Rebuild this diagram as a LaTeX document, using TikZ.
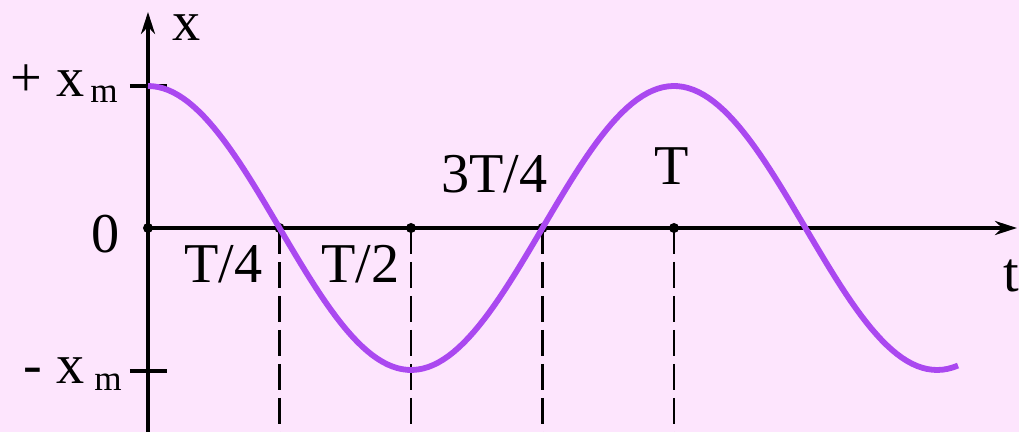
\documentclass[tikz,border=0pt]{standalone}
\usepackage{fontspec}
\setmainfont{Liberation Serif}
\usetikzlibrary{arrows.meta,positioning,calc}
\definecolor{bgpink}{RGB}{253,229,253}
\definecolor{wave}{RGB}{170,72,240}

\begin{document}
\begin{tikzpicture}[
    x=0.02cm, y=0.02cm,
    axis/.style={line width=2.3pt, -{Stealth[length=0.44cm,width=0.28cm]}},
    guide/.style={line width=1.5pt, dash pattern=on 0.52cm off 0.16cm},
    tickmark/.style={line width=2.3pt},
    lbl/.style={inner sep=0pt, font=\fontsize{32}{36}\selectfont},
    dot/.style={circle, fill, inner sep=0pt, minimum size=0.2cm}
]
\fill[bgpink] (-148,-204) rectangle (871,228);
\useasboundingbox (-148,-204) rectangle (871,228);

% axes
\coordinate (O) at (0,0);
\coordinate (bot) at (0,-204);
\coordinate (ytop) at (0,216);
\coordinate (xend) at (869,0);
\draw[axis] (bot) -- (ytop);
\draw[axis] (O) -- (xend);
\node[lbl, anchor=base west] (xlab) at (24,187) {x};
\node[lbl, anchor=base west] (tlab) at (855,-64) {t};

% amplitude ticks
\coordinate (pl) at (-18,142);
\coordinate (pr) at (19,142);
\coordinate (ml) at (-18,-143);
\coordinate (mr) at (19,-143);
\draw[tickmark] (pl) -- (pr);
\draw[tickmark] (ml) -- (mr);
\node[lbl, anchor=base east] (plus) at (-30,131) {+ x\hspace{0.12cm}\raisebox{-0.12cm}{\fontsize{20}{22}\selectfont m}};
\node[lbl, anchor=base east] (minus) at (-26,-156) {- x\hspace{0.2cm}\raisebox{-0.14cm}{\fontsize{20}{22}\selectfont m}};
\node[lbl, anchor=base east] (zero) at (-28,-25) {0};

% time marks
\node[dot] (d0) at (O) {};
\node[dot] (q1) at (131.5,0) {};
\node[dot] (q2) at (263,0) {};
\node[dot] (q3) at (394.5,0) {};
\node[dot] (q4) at (526,0) {};
\foreach \q in {q1,q2,q3,q4}
    \draw[guide] (\q.center) -- (\q |- bot);
\node[lbl, anchor=base east] (t1) at (115,-55) {T/4};
\node[lbl, anchor=base east] (t2) at (252,-55) {T/2};
\node[lbl, anchor=base east] (t3) at (400,35) {3T/4};
\node[lbl, anchor=base] (t4) at (523.5,43) {T};

% displacement curve
\draw[wave, line width=3.3pt] plot[domain=0:810, samples=160] (\x, {142*cos(\x/526*360)});
\end{tikzpicture}
\end{document}
